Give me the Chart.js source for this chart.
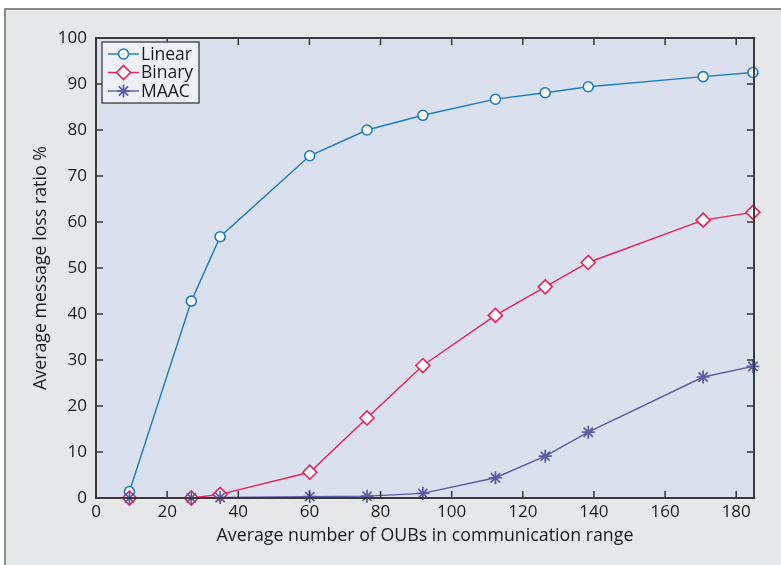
<!DOCTYPE html>
<html lang="en">
<head>
  <meta charset="UTF-8">
  <title>Average message loss ratio</title>
  <script src="https://cdn.jsdelivr.net/npm/chart.js"></script>
  <style>
    html, body {
      margin: 0;
      padding: 0;
      background: #ffffff;
    }
    .chart-box {
      width: 781px;
      height: 565px;
    }
  </style>
</head>
<body>

  <div class="chart-box">
    <canvas id="lossChart" width="781" height="565"></canvas>
  </div>

  <script>
    // values
    const oubCounts = [9.4, 26.8, 34.9, 60.1, 76.2, 91.9, 112.3, 126.3, 138.4, 170.7, 184.7];
    const linearLoss = [1.4, 42.8, 56.8, 74.4, 80.0, 83.2, 86.7, 88.1, 89.4, 91.6, 92.5];
    const binaryLoss = [0, 0, 0.8, 5.6, 17.4, 28.8, 39.7, 45.9, 51.2, 60.4, 62.1];
    const maacLoss = [0, 0, 0.1, 0.3, 0.4, 1.0, 4.4, 9.1, 14.3, 26.3, 28.6];
    const seriesNames = ["Linear", "Binary", "MAAC"];

    const FONT = "'Open Sans', 'Noto Sans', sans-serif";
    const AXIS_COLOR = "#3a3a3a";

    function toPoints(ys) {
      return oubCounts.map((x, i) => ({ x: x, y: ys[i] }));
    }

    // page frame + plot background
    const backgroundPlugin = {
      id: "backgroundPlugin",
      beforeDraw(chart) {
        const ctx = chart.ctx;
        const area = chart.chartArea;
        ctx.save();
        ctx.fillStyle = "#ffffff";
        ctx.fillRect(0, 0, chart.width, chart.height);
        ctx.fillStyle = "#e6e7e9";
        ctx.fillRect(5, 9, chart.width - 5, chart.height - 9);
        ctx.strokeStyle = "#8a8a8a";
        ctx.lineWidth = 2;
        ctx.beginPath();
        ctx.moveTo(5, chart.height);
        ctx.lineTo(5, 9);
        ctx.lineTo(chart.width, 9);
        ctx.stroke();
        ctx.fillStyle = "#dae0ee";
        ctx.fillRect(area.left, area.top, area.right - area.left, area.bottom - area.top);
        ctx.restore();
      }
    };

    // box around the axes with ticks pointing inwards on all sides
    const boxPlugin = {
      id: "boxPlugin",
      afterDatasetsDraw(chart) {
        const ctx = chart.ctx;
        const area = chart.chartArea;
        const xs = chart.scales.x;
        const ys = chart.scales.y;
        const len = 7;
        ctx.save();
        ctx.strokeStyle = AXIS_COLOR;
        ctx.lineWidth = 1.5;
        ctx.beginPath();
        xs.ticks.forEach(t => {
          const px = xs.getPixelForValue(t.value);
          ctx.moveTo(px, area.bottom);
          ctx.lineTo(px, area.bottom - len);
          ctx.moveTo(px, area.top);
          ctx.lineTo(px, area.top + len);
        });
        ys.ticks.forEach(t => {
          const py = ys.getPixelForValue(t.value);
          ctx.moveTo(area.left, py);
          ctx.lineTo(area.left + len, py);
          ctx.moveTo(area.right, py);
          ctx.lineTo(area.right - len, py);
        });
        ctx.stroke();
        ctx.lineWidth = 2;
        ctx.strokeRect(area.left, area.top, area.right - area.left, area.bottom - area.top);
        ctx.restore();
      }
    };

    // legend box in the top left corner, line + marker + name
    const legendPlugin = {
      id: "legendPlugin",
      afterDraw(chart) {
        const ctx = chart.ctx;
        const area = chart.chartArea;
        const bx = area.left + 6;
        const by = area.top + 4;
        const bw = 97;
        const bh = 61;
        ctx.save();
        ctx.fillStyle = "#eef0f7";
        ctx.fillRect(bx, by, bw, bh);
        ctx.strokeStyle = AXIS_COLOR;
        ctx.lineWidth = 1.3;
        ctx.strokeRect(bx, by, bw, bh);

        chart.data.datasets.forEach((ds, i) => {
          const rowY = by + 12 + i * 18.5;
          ctx.strokeStyle = ds.borderColor;
          ctx.lineWidth = ds.borderWidth;
          ctx.beginPath();
          ctx.moveTo(bx + 6, rowY);
          ctx.lineTo(bx + 37, rowY);
          ctx.stroke();
          ctx.fillStyle = ds.pointBackgroundColor;
          ctx.strokeStyle = ds.pointBorderColor;
          ctx.lineWidth = ds.pointBorderWidth;
          Chart.helpers.drawPoint(ctx, {
            pointStyle: ds.pointStyle,
            radius: ds.pointRadius,
            rotation: 0,
            borderWidth: ds.pointBorderWidth
          }, bx + 21.5, rowY);
          ctx.fillStyle = "#1a1a1a";
          ctx.font = "17.5px " + FONT;
          ctx.textBaseline = "middle";
          ctx.textAlign = "left";
          ctx.fillText(ds.label, bx + 39, rowY + 1);
        });
        ctx.restore();
      }
    };

    const ctx = document.getElementById("lossChart").getContext("2d");
    new Chart(ctx, {
      type: "line",
      data: {
        datasets: [
          {
            label: seriesNames[0],
            data: toPoints(linearLoss),
            order: 3,
            borderColor: "#1b7cc3",
            borderWidth: 1.4,
            pointStyle: "circle",
            pointRadius: 5,
            pointBackgroundColor: "#ffffff",
            pointBorderColor: "#1b7cc3",
            pointBorderWidth: 1.6,
            clip: false
          },
          {
            label: seriesNames[1],
            data: toPoints(binaryLoss),
            order: 2,
            borderColor: "#e8215a",
            borderWidth: 1.4,
            pointStyle: "rectRot",
            pointRadius: 7,
            pointBackgroundColor: "#ffffff",
            pointBorderColor: "#e8215a",
            pointBorderWidth: 1.6,
            clip: false
          },
          {
            label: seriesNames[2],
            data: toPoints(maacLoss),
            order: 1,
            borderColor: "#5b5aa8",
            borderWidth: 1.4,
            pointStyle: "star",
            pointRadius: 6.5,
            pointBackgroundColor: "#5b5aa8",
            pointBorderColor: "#5b5aa8",
            pointBorderWidth: 1.7,
            clip: false
          }
        ]
      },
      options: {
        responsive: false,
        animation: false,
        events: [],
        layout: {
          padding: { left: 0, right: 27, top: 38, bottom: 0 }
        },
        plugins: {
          legend: { display: false },
          tooltip: { enabled: false }
        },
        scales: {
          x: {
            type: "linear",
            min: 0,
            max: 185,
            afterFit(scale) { scale.height = 67; },
            grid: { display: false, drawTicks: false },
            border: { display: false },
            ticks: {
              stepSize: 20,
              includeBounds: false,
              padding: 4,
              color: "#1a1a1a",
              font: { family: FONT, size: 17 }
            },
            title: {
              display: true,
              text: "Average number of OUBs in communication range",
              color: "#1a1a1a",
              font: { family: FONT, size: 17.8 },
              padding: { top: 0, bottom: 18 }
            }
          },
          y: {
            min: 0,
            max: 100,
            afterFit(scale) { scale.width = 96; },
            grid: { display: false, drawTicks: false },
            border: { display: false },
            ticks: {
              stepSize: 10,
              padding: 9,
              color: "#1a1a1a",
              font: { family: FONT, size: 17 }
            },
            title: {
              display: true,
              text: "Average message loss ratio %",
              color: "#1a1a1a",
              font: { family: FONT, size: 17.8 },
              padding: { top: 30, bottom: 0 }
            }
          }
        }
      },
      plugins: [backgroundPlugin, boxPlugin, legendPlugin]
    });
  </script>

</body>
</html>
